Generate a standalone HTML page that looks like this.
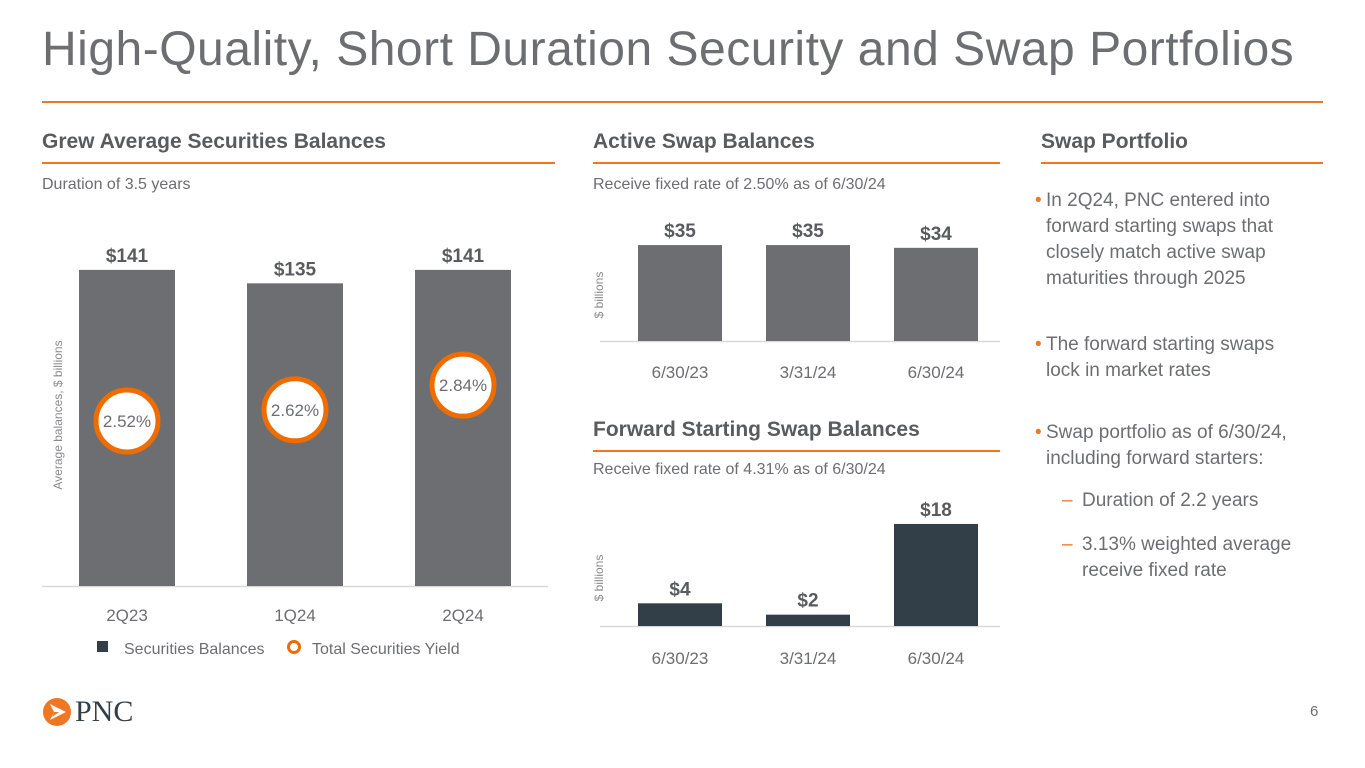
<!DOCTYPE html>
<html><head><meta charset="utf-8"><style>
body{margin:0;width:1365px;height:768px;background:#fff;font-family:"Liberation Sans",sans-serif;position:relative;overflow:hidden;color:#6d6e71}
.abs{position:absolute}
h1{position:absolute;left:42px;top:22px;margin:0;font-weight:normal;font-size:48px;color:#6d6e71;letter-spacing:0.5px;white-space:nowrap}
.rule{position:absolute;height:2px;background:#ef7622}
.hd{position:absolute;font-weight:bold;font-size:21px;color:#5a5b5d}
.sub{position:absolute;font-size:16px;color:#6d6e71}
.bul{position:absolute;font-size:19px;line-height:26px;color:#6d6e71;padding-left:11px}
.bul .d{position:absolute;left:0;color:#ef7622}
</style></head><body>
<h1>High-Quality, Short Duration Security and Swap Portfolios</h1>
<div class="rule" style="left:42px;top:101px;width:1281px"></div>

<div class="hd" style="left:42px;top:130px">Grew Average Securities Balances</div>
<div class="rule" style="left:42px;top:162px;width:513px"></div>
<div class="sub" style="left:42px;top:176px">Duration of 3.5 years</div>

<div class="hd" style="left:593px;top:130px">Active Swap Balances</div>
<div class="rule" style="left:593px;top:162px;width:407px"></div>
<div class="sub" style="left:593px;top:176px">Receive fixed rate of 2.50% as of 6/30/24</div>

<div class="hd" style="left:593px;top:418px">Forward Starting Swap Balances</div>
<div class="rule" style="left:593px;top:450px;width:407px"></div>
<div class="sub" style="left:593px;top:461px">Receive fixed rate of 4.31% as of 6/30/24</div>

<div class="hd" style="left:1041px;top:130px">Swap Portfolio</div>
<div class="rule" style="left:1041px;top:162px;width:282px"></div>
<div class="bul" style="left:1035px;top:188px;width:268px"><span class="d">•</span>In 2Q24, PNC entered into forward starting swaps that closely match active swap maturities through 2025</div>
<div class="bul" style="left:1035px;top:332px;width:280px"><span class="d">•</span>The forward starting swaps<br>lock in market rates</div>
<div class="bul" style="left:1035px;top:420px;width:280px"><span class="d">•</span>Swap portfolio as of 6/30/24, including forward starters:</div>
<div class="bul" style="left:1062px;top:488px;padding-left:20px;width:250px"><span class="d">–</span>Duration of 2.2 years</div>
<div class="bul" style="left:1062px;top:532px;padding-left:20px;width:250px"><span class="d">–</span>3.13% weighted average receive fixed rate</div>

<svg class="abs" style="left:0;top:0" width="1365" height="768" id="svg"></svg>

<div class="abs" style="left:42px;top:695px;display:flex;align-items:center">
<svg width="30" height="30" viewBox="0 0 30 30"><circle cx="15" cy="15" r="14" fill="#ef7622"/><path d="M8 7 L24 15 L8 23 L12 15 Z" fill="#fff"/><path d="M12 15 L17 15 L10 20Z" fill="#ef7622"/></svg>
<span style="font-family:'Liberation Serif',serif;font-size:30px;color:#333f48;margin-left:3px">PNC</span></div>
<div class="abs" style="left:1310px;top:703px;font-size:15px">6</div>

<script>
const secCats=["2Q23","1Q24","2Q24"];
const secVals=[141,135,141];
const secLabels=["$141","$135","$141"];
const yieldVals=[2.52,2.62,2.84];
const yieldLabels=["2.52%","2.62%","2.84%"];
const activeCats=["6/30/23","3/31/24","6/30/24"];
const activeVals=[35,35,34];
const activeLabels=["$35","$35","$34"];
const fwdCats=["6/30/23","3/31/24","6/30/24"];
const fwdVals=[4,2,18];
const fwdLabels=["$4","$2","$18"];

const svg=document.getElementById('svg');
const NS='http://www.w3.org/2000/svg';
function mk(t,a,txt){const e=document.createElementNS(NS,t);for(const k in a)e.setAttribute(k,a[k]);if(txt!==undefined)e.textContent=txt;svg.appendChild(e);return e;}

function barChart(o){
  const {x0,step,bw,base,scale,cats,vals,labels,color,axisL,axisR,catY,prefix}=o;
  let l=mk('line',{x1:axisL,x2:axisR,y1:base+0.5,y2:base+0.5,stroke:'#d9d9d9','stroke-width':1.5});
  
  
  cats.forEach((c,i)=>{
    const x=x0+i*step, h=vals[i]*scale;
    let r=mk('rect',{x:x,y:base-h,width:bw,height:h,fill:color});
    
    
    let t=mk('text',{x:x+bw/2,y:base-h-8,'text-anchor':'middle','font-size':19,'font-weight':'bold',fill:'#5a5b5d'},labels[i]);
    
    
    let ct=mk('text',{x:x+bw/2,y:catY,'text-anchor':'middle','font-size':17,fill:'#6d6e71'},c);
    
    
  });
}
barChart({x0:79,step:168,bw:96,base:586,scale:2.242,cats:secCats,vals:secVals,labels:secLabels,color:'#6d6e71',axisL:42,axisR:548,catY:621,prefix:'securities'});
barChart({x0:638,step:128,bw:84,base:341,scale:2.74,cats:activeCats,vals:activeVals,labels:activeLabels,color:'#6d6e71',axisL:600,axisR:1000,catY:378,prefix:'active-swap'});
barChart({x0:638,step:128,bw:84,base:626,scale:5.67,cats:fwdCats,vals:fwdVals,labels:fwdLabels,color:'#333f48',axisL:600,axisR:1000,catY:664,prefix:'forward-swap'});

function yY(v){return 421-(v-2.52)*112;}
secCats.forEach((c,i)=>{
  const cx=79+i*168+48, cy=yY(yieldVals[i]);
  let ci=mk('circle',{cx:cx,cy:cy,r:31,fill:'#fff',stroke:'#ef6c00','stroke-width':5});
  
  
  let t=mk('text',{x:cx,y:cy+6,'text-anchor':'middle','font-size':17,fill:'#6d6e71'},yieldLabels[i]);
  
  
});

function vt(x,y,s,name){let t=mk('text',{x:x,y:y,'text-anchor':'middle','font-size':12,fill:'#8a8b8d',transform:`rotate(-90 ${x} ${y})`},s);
 }
vt(62,415,'Average balances, $ billions','securities-y-axis-title');
vt(603,295,'$ billions','active-swap-y-axis-title');
vt(603,578,'$ billions','forward-swap-y-axis-title');

let lr=mk('rect',{x:97,y:641,width:11,height:11,fill:'#333f48'});


let lt=mk('text',{x:124,y:654,'font-size':16,fill:'#6d6e71'},'Securities Balances');


let lc=mk('circle',{cx:294,cy:647,r:5.5,fill:'#fff',stroke:'#ef6c00','stroke-width':3});


let lt2=mk('text',{x:312,y:654,'font-size':16,fill:'#6d6e71'},'Total Securities Yield');


</script>
</body></html>
